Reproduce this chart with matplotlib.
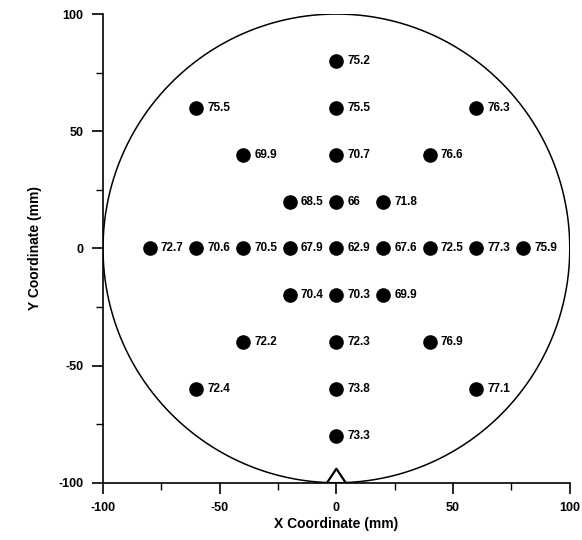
import matplotlib.pyplot as plt
import numpy as np
from matplotlib.ticker import MultipleLocator

plt.rcParams['font.family'] = ['Liberation Sans', 'DejaVu Sans']
plt.rcParams['axes.unicode_minus'] = False

# measurement sites (mm) and values
xs = [0,
      -60, 0, 60,
      -40, 0, 40,
      -20, 0, 20,
      -80, -60, -40, -20, 0, 20, 40, 60, 80,
      -20, 0, 20,
      -40, 0, 40,
      -60, 0, 60,
      0]
ys = [80,
      60, 60, 60,
      40, 40, 40,
      20, 20, 20,
      0, 0, 0, 0, 0, 0, 0, 0, 0,
      -20, -20, -20,
      -40, -40, -40,
      -60, -60, -60,
      -80]
vals = ["75.2",
        "75.5", "75.5", "76.3",
        "69.9", "70.7", "76.6",
        "68.5", "66", "71.8",
        "72.7", "70.6", "70.5", "67.9", "62.9", "67.6", "72.5", "77.3", "75.9",
        "70.4", "70.3", "69.9",
        "72.2", "72.3", "76.9",
        "72.4", "73.8", "77.1",
        "73.3"]

radius = 100
notch_x = [-4, 0, 4]
notch_y = [-100, -94, -100]

fig = plt.figure(figsize=(5.82, 5.40), dpi=100)
ax = fig.add_axes([0.177, 0.106, 0.802, 0.868])

t = np.linspace(0, 2 * np.pi, 400)
ax.plot(radius * np.cos(t), radius * np.sin(t), color='black', lw=1.1)
ax.plot(notch_x, notch_y, color='black', lw=1.6)

ax.plot(xs, ys, 'o', color='black', markersize=9.5)
for x, y, v in zip(xs, ys, vals):
    ax.annotate(v, (x, y), xytext=(8, 0), textcoords='offset points',
                va='center', ha='left', fontsize=8.5, fontweight='bold')

ax.set_xlim(-100, 100)
ax.set_ylim(-100, 100)
ax.spines['top'].set_visible(False)
ax.spines['right'].set_visible(False)
ax.spines['left'].set_linewidth(1.2)
ax.spines['bottom'].set_linewidth(1.2)
ax.xaxis.set_major_locator(MultipleLocator(50))
ax.yaxis.set_major_locator(MultipleLocator(50))
ax.xaxis.set_minor_locator(MultipleLocator(25))
ax.yaxis.set_minor_locator(MultipleLocator(25))
ax.tick_params(which='major', length=8, width=1.2, labelsize=9, pad=6)
ax.tick_params(which='minor', length=5, width=1.0)
for lab in ax.get_xticklabels() + ax.get_yticklabels():
    lab.set_fontweight('bold')

ax.set_xlabel('X Coordinate (mm)', fontsize=10, fontweight='bold', labelpad=2)
ax.set_ylabel('Y Coordinate (mm)', fontsize=10, fontweight='bold', labelpad=12)

fig.savefig('out.png', dpi=100)
